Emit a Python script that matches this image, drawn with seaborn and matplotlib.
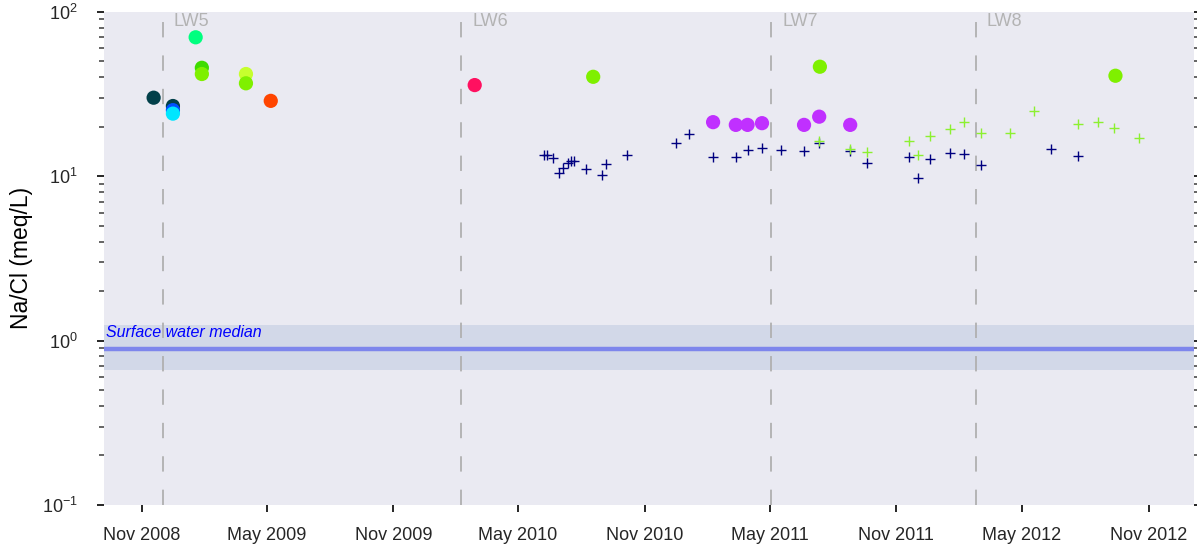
import matplotlib
matplotlib.use("Agg")
import matplotlib.pyplot as plt
import matplotlib.dates as mdates
import matplotlib.ticker as mticker
import numpy as np
import pandas as pd
import seaborn as sns

# ---------------- data ----------------
circle_dates = ['2008-11-18', '2008-12-16', '2008-12-16', '2008-12-16', '2009-01-18',
                '2009-01-27', '2009-01-27', '2009-04-01', '2009-04-01', '2009-05-07',
                '2010-02-27', '2010-08-18', '2011-02-08', '2011-03-13', '2011-03-30',
                '2011-04-20', '2011-06-20', '2011-07-12', '2011-08-26', '2011-07-13',
                '2012-09-14']
circle_values = [30.0, 26.7, 25.2, 24.0, 69.9,
                 45.6, 41.8, 41.8, 36.7, 28.7,
                 35.8, 40.2, 21.3, 20.5, 20.5,
                 21.0, 20.5, 23.0, 20.5, 46.3,
                 40.8]
circle_groups = ['g01', 'g01', 'g02', 'g03', 'g04',
                 'g05', 'g06', 'g07', 'g06', 'g08',
                 'g09', 'g06', 'g10', 'g10', 'g10',
                 'g10', 'g10', 'g10', 'g10', 'g06',
                 'g06']

navy_dates = ['2010-06-08', '2010-06-12', '2010-06-21', '2010-06-29', '2010-07-05',
              '2010-07-13', '2010-07-17', '2010-07-21', '2010-08-08', '2010-08-31',
              '2010-09-06', '2010-10-06', '2010-12-16', '2011-01-04', '2011-02-08',
              '2011-03-13', '2011-03-30', '2011-04-20', '2011-05-17', '2011-06-20',
              '2011-07-12', '2011-08-26', '2011-09-20', '2011-11-19', '2011-12-03',
              '2011-12-20', '2012-01-18', '2012-02-07', '2012-03-03', '2012-06-13',
              '2012-07-22']
navy_values = [13.4, 13.4, 12.9, 10.5, 11.2,
               12.0, 12.4, 12.4, 11.1, 10.2,
               11.9, 13.4, 16.0, 18.0, 13.0,
               13.1, 14.4, 14.9, 14.4, 14.2,
               15.9, 14.2, 12.0, 13.0, 9.8,
               12.8, 13.8, 13.6, 11.7, 14.7,
               13.3]

lime_dates = ['2011-07-12', '2011-08-26', '2011-09-20', '2011-11-19', '2011-12-03',
              '2011-12-20', '2012-01-18', '2012-02-07', '2012-03-03', '2012-04-14',
              '2012-05-19', '2012-07-22', '2012-08-19', '2012-09-12', '2012-10-18']
lime_values = [16.4, 14.7, 14.0, 16.4, 13.4,
               17.5, 19.3, 21.3, 18.3, 18.4,
               24.9, 20.7, 21.3, 19.5, 17.1]

longwall_names = ['LW5', 'LW6', 'LW7', 'LW8']
longwall_dates = ['2008-12-01', '2010-02-07', '2011-05-03', '2012-02-24']

surface_median = 0.885
surface_low = 0.662
surface_high = 1.243
surface_label = 'Surface water median'

y_label = 'Na/Cl (meq/L)'

# ---------------- styles ----------------
group_palette = {
    'g01': '#02404a', 'g02': '#0050ff', 'g03': '#00e6ff', 'g04': '#00ff7f',
    'g05': '#3fdc00', 'g06': '#7ff000', 'g07': '#c6ff2e', 'g08': '#ff4500',
    'g09': '#ff1060', 'g10': '#c030ff',
}

sns.set_style('dark', {
    'axes.facecolor': '#eaeaf2',
    'xtick.bottom': True, 'ytick.left': True, 'ytick.right': True,
})
plt.rcParams['font.family'] = ['Liberation Sans', 'DejaVu Sans']
plt.rcParams['mathtext.fontset'] = 'custom'
plt.rcParams['mathtext.rm'] = 'Liberation Sans'
plt.rcParams['mathtext.it'] = 'Liberation Sans:italic'
plt.rcParams['mathtext.bf'] = 'Liberation Sans:bold'
plt.rcParams['axes.unicode_minus'] = False

circles = pd.DataFrame({'date': pd.to_datetime(circle_dates),
                        'value': circle_values, 'group': circle_groups})
navy = pd.DataFrame({'date': pd.to_datetime(navy_dates), 'value': navy_values})
lime = pd.DataFrame({'date': pd.to_datetime(lime_dates), 'value': lime_values})

fig = plt.figure(figsize=(11.97, 5.48), dpi=100)
ax = fig.add_axes([0.0869, 0.0785, 0.9106, 0.9001])

ax.set_yscale('log')
ax.set_ylim(0.1, 100)
ax.set_xlim(pd.Timestamp('2008-09-07'), pd.Timestamp('2013-01-06'))

# surface water band + median line
ax.axhspan(surface_low, surface_high, color='#d2d8e8', zorder=0.5, lw=0)
ax.axhline(surface_median, color='#7e86ec', lw=3.2, zorder=1)
ax.text(0.002, surface_high, surface_label, transform=ax.get_yaxis_transform(),
        color='blue', fontstyle='italic', fontsize=11.5, va='top', ha='left')

# longwall markers
for name, d in zip(longwall_names, longwall_dates):
    dt = pd.Timestamp(d)
    ax.axvline(dt, color='#b0b0b0', lw=1.3, dashes=(8.5, 10), zorder=1)
    ax.annotate(name, xy=(dt, 1), xycoords=('data', 'axes fraction'),
                xytext=(8, -1), textcoords='offset points',
                va='top', ha='left', color='#b3b3b3', fontsize=13)

sns.scatterplot(data=navy, x='date', y='value', marker='+', color='#000080',
                s=55, linewidth=1.0, ax=ax, zorder=3)
sns.scatterplot(data=lime, x='date', y='value', marker='+', color='#8cf030',
                s=55, linewidth=1.0, ax=ax, zorder=3)
sns.scatterplot(data=circles, x='date', y='value', hue='group', palette=group_palette,
                s=105, edgecolor='none', legend=False, ax=ax, zorder=4)

ax.xaxis.set_major_locator(mdates.MonthLocator(bymonth=[5, 11]))
ax.xaxis.set_major_formatter(mdates.DateFormatter('%b %Y'))
ax.yaxis.set_major_locator(mticker.LogLocator(base=10))
ax.yaxis.set_minor_locator(mticker.LogLocator(base=10, subs=np.arange(2, 10)))
ax.yaxis.set_minor_formatter(mticker.NullFormatter())

ax.tick_params(axis='both', which='major', direction='out', length=5, width=1.4,
               color='#262626', labelcolor='#262626', labelsize=13)
ax.tick_params(axis='y', which='major', pad=14)
ax.tick_params(axis='x', which='major', pad=11)
ax.tick_params(axis='y', which='minor', direction='out', length=3.5, width=1.1,
               color='#3a3a3a', left=True, right=True)
ax.tick_params(axis='y', which='both', right=True)

ax.set_xlabel('')
ax.set_ylabel(y_label, fontsize=16.5, color='black', labelpad=6)
for s in ax.spines.values():
    s.set_visible(False)

fig.savefig('out.png', dpi=100)
